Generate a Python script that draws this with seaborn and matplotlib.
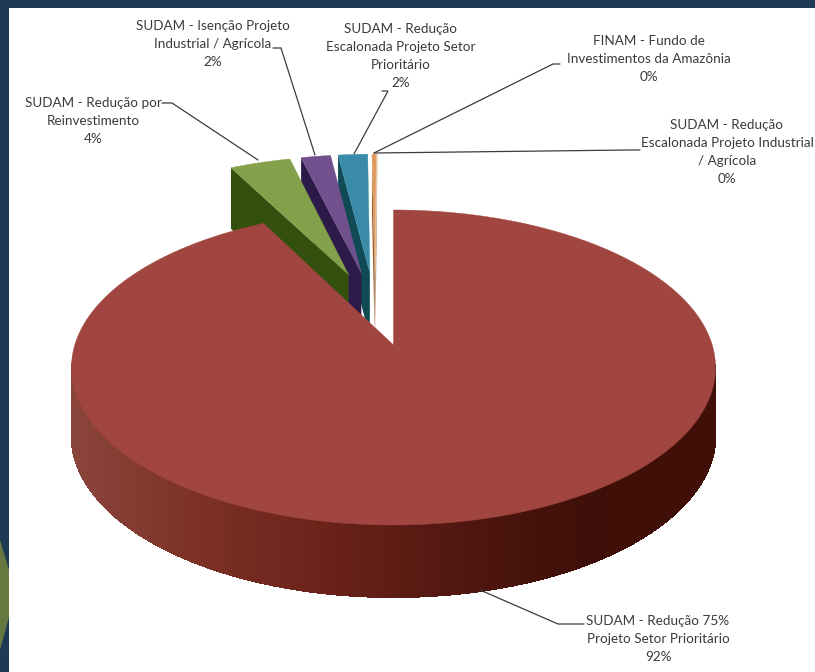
import matplotlib
matplotlib.use("Agg")
import matplotlib.pyplot as plt
from matplotlib.collections import PolyCollection
from matplotlib.patches import Polygon, Rectangle
import numpy as np
import seaborn as sns

# fundos, na ordem em que aparecem no grafico (sentido horario a partir do topo)
names = [
    "SUDAM - Redução 75%\nProjeto Setor Prioritário",
    "SUDAM - Redução por\nReinvestimento",
    "SUDAM - Isenção Projeto\nIndustrial / Agrícola",
    "SUDAM - Redução\nEscalonada Projeto Setor\nPrioritário",
    "FINAM - Fundo de\nInvestimentos da Amazônia",
    "SUDAM - Redução\nEscalonada Projeto Industrial\n/ Agrícola",
]
shares = [92.4, 3.7, 1.8, 1.8, 0.25, 0.05]

top_colors = ["#a0453f", "#84a04a", "#71508e", "#3a8ba8", "#dd9a5c", "#e8c8a8"]
side_colors = ["#6b241c", "#33500f", "#2c1a48", "#0f4a55", "#9a6030", "#9a6030"]
# lateral da fatia principal, da esquerda para a direita
rim_colors = ["#8a453a", "#7c3026", "#6a2219", "#501710", "#3e0f08", "#420f08"]

# posicao do texto e da linha guia de cada rotulo, em pixels
label_xy = [(658, 639), (93, 121), (213, 44), (401, 56), (649, 59), (727, 152)]
leaders = [
    [(480, 590), (558, 624), (584, 624)],
    [(162, 103), (172, 103), (258, 160)],
    [(273, 48), (281, 48), (315, 155)],
    [(382, 91), (388, 91), (354, 154)],
    [(560, 64), (553, 64), (374, 153)],
    [(640, 150), (630, 150), (374, 153)],
]

ORIGIN_X, ORIGIN_Y = 393.5, 345
RX, RY, PERSP = 318.7, 154.3, 1 / 7
EXPLODE = 0.255
DEPTH, DEPTH_PERSP = 67, 0.07


def project(u, v, drop=0.0):
    """Perspectiva simples: v > 0 aponta para a frente do grafico."""
    u, v = np.asarray(u, float), np.asarray(v, float)
    w = 1 - PERSP * v
    y = ORIGIN_Y + RY * v / w
    if drop:
        y = y + drop * DEPTH / (1 - DEPTH_PERSP * v)
    return np.column_stack([ORIGIN_X + RX * u / w, y])


sns.set_theme(style="white")
plt.rcParams["font.family"] = ["Lato", "DejaVu Sans"]

fig = plt.figure(figsize=(8.15, 6.72), dpi=100, facecolor="white")
ax = fig.add_axes([0, 0, 1, 1])
ax.set_xlim(0, 815)
ax.set_ylim(672, 0)
ax.axis("off")

# moldura do slide
ax.add_patch(Rectangle((0, 0), 815, 8, color="#1f3a55", lw=0, zorder=0))
ax.add_patch(Rectangle((0, 0), 9, 672, color="#1f3a55", lw=0, zorder=0))
ax.add_patch(Polygon([(0, 540), (9, 570), (9, 617), (0, 650)], color="#66783f", lw=0, zorder=0))

fractions = np.array(shares) / sum(shares)
ends = np.cumsum(fractions) * 2 * np.pi
starts = ends - fractions * 2 * np.pi
mids = (starts + ends) / 2

# o centro real fica atras da fatia principal, todas afastadas pela mesma distancia
center_u = -EXPLODE * np.sin(mids[0])
center_v = EXPLODE * np.cos(mids[0])

zorder = 2
# da direita para a esquerda: cada fatia cobre a face escura da vizinha
for i in [5, 4, 3, 2, 1, 0]:
    off_u = center_u + EXPLODE * np.sin(mids[i])
    off_v = center_v - EXPLODE * np.cos(mids[i])
    theta = np.linspace(starts[i], ends[i], max(int(fractions[i] * 720), 3))
    arc_u = off_u + np.sin(theta)
    arc_v = off_v - np.cos(theta)

    if i == 0:
        # so a parte da frente, a de tras ficaria aparecendo atras do topo
        keep = arc_v - off_v > 0.12
        low_u, low_v = arc_u[keep], arc_v[keep]
        up = project(low_u, low_v)
        down = project(low_u, low_v, drop=1)
        quads = [[up[k], up[k + 1], down[k + 1], down[k]] for k in range(len(up) - 1)]
        ramp = sns.blend_palette(rim_colors, n_colors=256)
        pos = (up[:-1, 0] - up[:, 0].min()) / (up[:, 0].max() - up[:, 0].min())
        shades = [ramp[int(p * 255)] for p in pos]
        # sem antialias senao aparecem listras entre os quadrilateros
        ax.add_collection(PolyCollection(quads, facecolors=shades, edgecolors=shades, linewidths=0.7,
                                         antialiaseds=False, zorder=zorder))
    else:
        # face de corte esquerda, a unica visivel nas fatias destacadas
        a = project([off_u, arc_u[0]], [off_v, arc_v[0]])
        b = project([off_u, arc_u[0]], [off_v, arc_v[0]], drop=1)
        ax.add_patch(Polygon([a[0], a[1], b[1], b[0]], color=side_colors[i], lw=0, zorder=zorder))
    top = project(np.r_[off_u, arc_u], np.r_[off_v, arc_v])
    ax.add_patch(Polygon(top, color=top_colors[i], lw=0.3, zorder=zorder + 1))
    zorder += 2

for i, name in enumerate(names):
    ax.text(*label_xy[i], f"{name}\n{round(shares[i])}%", ha="center", va="center",
            fontsize=9.7, color="#3a3a3a", linespacing=1.58, zorder=30)
    xs, ys = zip(*leaders[i])
    ax.plot(xs, ys, color="#3c3c3c", lw=0.9, zorder=25, solid_joinstyle="miter")

fig.savefig("out.png", dpi=100, facecolor="white")
